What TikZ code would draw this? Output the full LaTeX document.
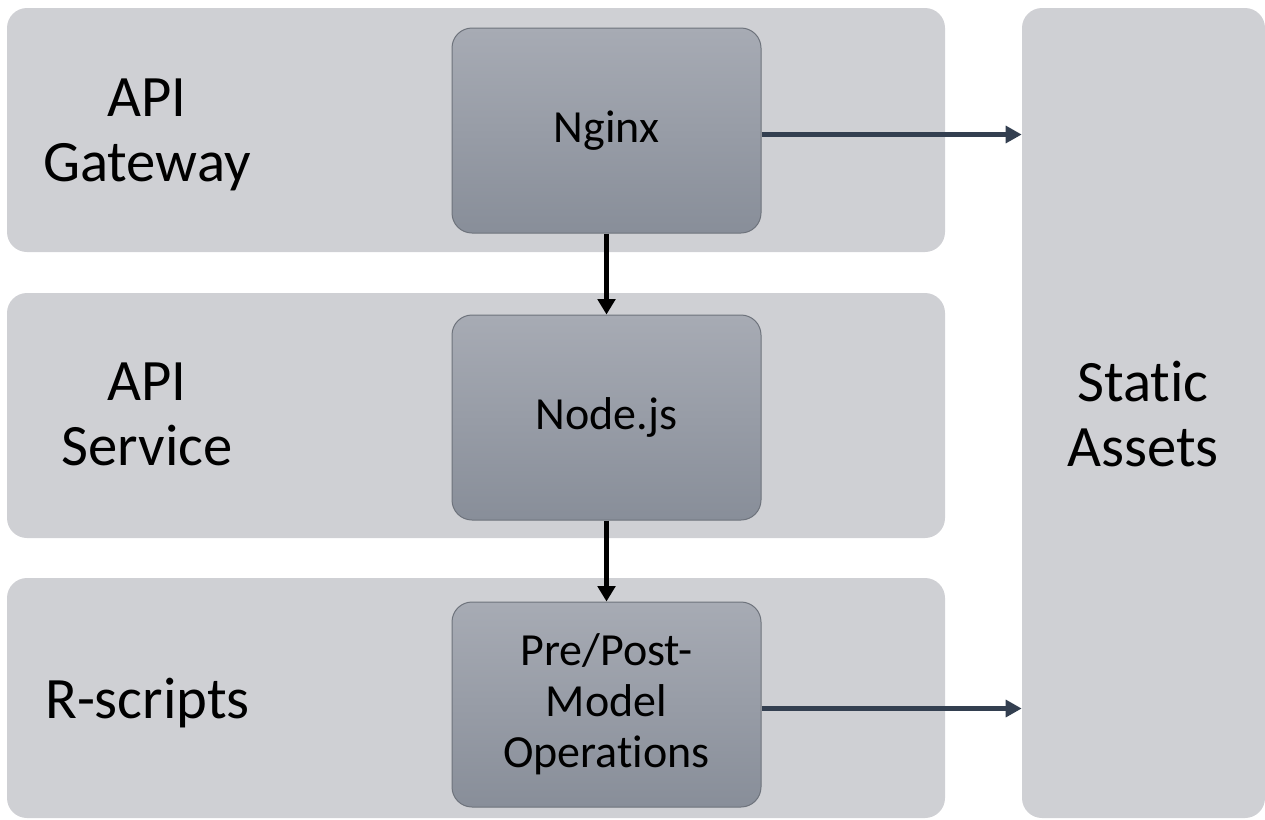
\documentclass[tikz,border=0pt]{standalone}
\usepackage{fontspec}
\setmainfont{Carlito}[RawFeature={-liga}]
\usetikzlibrary{arrows.meta}
\definecolor{bandfill}{HTML}{CFD0D4}
\definecolor{boxtop}{HTML}{A7ABB4}
\definecolor{boxbot}{HTML}{888E99}
\definecolor{boxline}{HTML}{6E737C}
\definecolor{navy}{HTML}{333F50}
\begin{document}
\begin{tikzpicture}[x=0.75pt,y=-0.75pt,
  band/.style={fill=bandfill, draw=none, rounded corners=15pt, inner sep=0pt},
  comp/.style={top color=boxtop, bottom color=boxbot, draw=boxline, line width=0.75pt,
    rounded corners=15pt, minimum width=231.75pt, minimum height=153.75pt,
    align=center, font=\fontsize{34.5}{38.25}\selectfont, inner sep=0pt},
  lbl/.style={align=center, font=\fontsize{44}{48.75}\selectfont, inner sep=0pt},
  down/.style={line width=3.6pt, black, -{Triangle[width=13pt,length=11.5pt]}},
  side/.style={line width=3.6pt, navy, -{Triangle[width=12.5pt,length=12pt]}}
]
\useasboundingbox (0,0) rectangle (1265,819);
% bands
\node[band, minimum width=703.5pt, minimum height=183pt] (gwband) at (476,130) {};
\node[band, minimum width=703.5pt, minimum height=183.75pt] (svband) at (476,415.5) {};
\node[band, minimum width=703.5pt, minimum height=180pt] (rband) at (476,698) {};
\node[band, minimum width=182.25pt, minimum height=607.5pt] (static) at (1143.5,413) {};
% labels
\node[lbl] (gwl) at (147,135) {API\\Gateway};
\node[lbl] (svl) at (147,414) {API\\Service};
\node[lbl, anchor=base] (rl) at (147.5,718) {R-scripts};
\node[lbl] (stl) at (1143,414) {Static\\Assets};
% components
\node[comp] (nginx) at (606.5,130.5) {Nginx};
\node[comp] (nodejs) at (606.5,417.5) {Node.js};
\node[comp] (ops) at (606.5,704.5) {Pre/Post-\\Model\\Operations};
% connectors
\draw[down] (nginx.south) -- (nodejs.north);
\draw[down] (nodejs.south) -- (ops.north);
\draw[side] ([yshift=-3pt]nginx.east) -- ([yshift=-3pt]nginx.east -| static.west);
\draw[side] ([yshift=-3pt]ops.east) -- ([yshift=-3pt]ops.east -| static.west);
\end{tikzpicture}
\end{document}
